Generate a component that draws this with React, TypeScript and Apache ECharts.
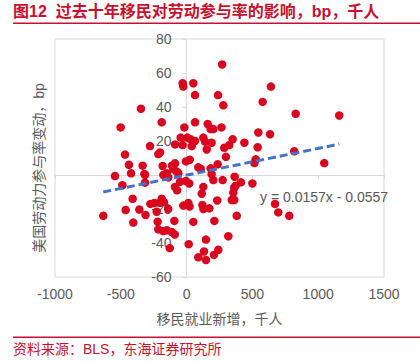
import React, { useEffect, useRef } from "react";
import * as echarts from "echarts";

const titleText = "图12  过去十年移民对劳动参与率的影响，bp，千人";
const sourceText = "资料来源：BLS，东海证券研究所";
const xAxisName = "移民就业新增，千人";
const yAxisName = "美国劳动力参与率变动，bp";
const equationText = "y = 0.0157x - 0.0557";
const trendSlope = 0.0157;
const trendIntercept = -0.0557;

const immigrantGain = [
  270, -30, -25, 51, 64, 239, 279, -347, 641, 578, 829, 1160, -501, -189, 64, -17, 160, 183, 203, 265,
  545, 634, -45, 5, 30, 64, 127, 140, 190, 350, 439, -88, -30, 39, 153, -278, -202, -215, -468, 286,
  324, 540, 818, 299, -438, -334, -422, -321, -544, -182, -111, -88, -101, -75, -5, 24, 89, 107, 183, 190,
  203, 236, 274, 365, -177, -63, -50, -5, 20, -88, 127, -488, 525, 515, 1046, 413, 500, 373, 362, 115,
  -316, -316, -151, -139, -72, 672, 697, 780, 355, 343, 362, 381, 233, 211, 317, 147, 241, 208, 132, 147,
  89, 120, 128, 173, -633, -410, -463, -405, -359, -312, -275, -245, -227, -202, -189, -172, -140, -220, -93, -215,
  -177, -150, -113, -90, -128, 16, 51, -25, 13, 22,
];
const participationChange = [
  65, 54, 52, 54, 47, 47, 41, 39, 52, 43, 36, 35, 28, 31, 31, 28, 30, 27, 27, 28,
  25, 24, 22, 22, 21, 20, 22, 19.6, 19, 21, 19, 18, 17.6, 17, 15, 17, 13.3, 12.3, 12, 16,
  17.6, 16.3, 14, 10.7, 6, 5.5, 1, 0.6, -0.6, 5.3, 5.5, 6.9, 3.5, 2, 8, 9, 4.5, 3.7, 3.9, 0.5,
  -3, 6.3, -3, -1, 0, 1, -4, -3.5, -5, -7, -7, -6, 9.2, 7, 7, -4.3, -5, -6.3, -7.5, -11,
  0, -4.5, 1, -1.4, -9, -17, -22, -24, -10.4, -14.7, -14.7, -24, -15, -27, -36, -38, -44, -47, -45, -50,
  -48.4, -17.6, -20, -19.6, -24, -14, -20.6, -28, -20.3, -23.5, -17, -16.5, -21.6, -16.3, -14, -16, -20, -27.5, -27, -32,
  -33, -32.5, -33.5, -35, -43, -40.7, -27.6, -18, -16.5, -18.5,
];

const xTicks = { min: -1000, max: 1500, interval: 500 };
const yTicks = { min: -60, max: 80, interval: 20 };

const RED = "#c8102e";
const GRAY = "#595959";
const LINE = "#d9d9d9";
const CJK = "'Liberation Sans', 'Noto Sans CJK SC', sans-serif";

const GRID_LEFT = 55;
const GRID_RIGHT = 36;
const CHART_W = 420;

export default function App() {
  const ref = useRef<HTMLDivElement>(null);
  useEffect(() => {
    if (!ref.current) return;
    const chart = echarts.init(ref.current, undefined, { renderer: "svg" });
    const points = immigrantGain.map((x, i) => [x, participationChange[i]]);
    const xMin = Math.min(...immigrantGain);
    const xMax = Math.max(...immigrantGain);
    const trend = [
      [xMin, trendSlope * xMin + trendIntercept],
      [xMax, trendSlope * xMax + trendIntercept],
    ];
    const plotW = CHART_W - GRID_LEFT - GRID_RIGHT;
    const zeroOffset = ((0 - xTicks.min) / (xTicks.max - xTicks.min)) * plotW;
    chart.setOption({
      animation: false,
      textStyle: { fontFamily: CJK },
      grid: {
        left: GRID_LEFT,
        right: GRID_RIGHT,
        top: 39,
        bottom: 85,
        show: true,
        borderColor: LINE,
        borderWidth: 1,
      },
      xAxis: [
        {
          type: "value",
          ...xTicks,
          position: "bottom",
          axisLine: { show: true, onZero: true, lineStyle: { color: LINE, width: 1 } },
          axisTick: { show: true, length: 4, lineStyle: { color: LINE } },
          axisLabel: { show: false },
          splitLine: { show: false },
        },
        {
          type: "value",
          ...xTicks,
          position: "bottom",
          axisLine: { show: false, onZero: false },
          axisTick: { show: false },
          axisLabel: {
            show: true,
            color: GRAY,
            fontSize: 14,
            margin: 10,
            fontFamily: CJK,
            formatter: (v: number) => String(v),
          },
          splitLine: { show: false },
          name: xAxisName,
          nameLocation: "middle",
          nameGap: 35,
          nameTextStyle: { color: GRAY, fontSize: 14, fontFamily: CJK },
        },
      ],
      yAxis: {
        type: "value",
        ...yTicks,
        position: "left",
        offset: -zeroOffset,
        axisLine: { show: true, onZero: false, lineStyle: { color: LINE, width: 1 } },
        axisTick: { show: true, length: 4, lineStyle: { color: LINE } },
        axisLabel: {
          color: GRAY,
          fontSize: 14,
          margin: 15,
          fontFamily: CJK,
          formatter: (v: number) => String(v),
        },
        splitLine: { show: false },
      },
      series: [
        {
          type: "scatter",
          xAxisIndex: 0,
          data: points,
          symbolSize: 8.5,
          itemStyle: { color: "#d9061f", opacity: 1 },
          z: 2,
        },
        {
          type: "line",
          xAxisIndex: 0,
          data: trend,
          symbol: "none",
          lineStyle: { color: "#4472c4", width: 3, type: [8, 4] },
          z: 3,
        },
      ],
      graphic: [
        {
          type: "text",
          left: 13,
          top: 3,
          style: { text: titleText, fill: RED, font: `bold 16px ${CJK}` },
        },
        {
          type: "rect",
          shape: { x: 13, y: 22.5, width: 407, height: 1.5 },
          style: { fill: RED },
        },
        {
          type: "rect",
          shape: { x: 13, y: 336.5, width: 407, height: 1.5 },
          style: { fill: RED },
        },
        {
          type: "text",
          left: 13,
          top: 342,
          style: { text: sourceText, fill: RED, font: `14px ${CJK}` },
        },
        {
          type: "text",
          x: 39,
          y: 168,
          rotation: Math.PI / 2,
          style: {
            text: yAxisName,
            fill: GRAY,
            font: `14px ${CJK}`,
            align: "center",
            verticalAlign: "middle",
          },
        },
        {
          type: "text",
          x: 260,
          y: 197,
          style: {
            text: equationText,
            fill: GRAY,
            font: `14px ${CJK}`,
            align: "left",
            verticalAlign: "middle",
          },
          z: 10,
        },
      ],
    });
    return () => chart.dispose();
  }, []);
  return (
    <div
      ref={ref}
      style={{ position: "fixed", left: 0, top: 0, width: 420, height: 362, background: "#fff" }}
    />
  );
}
